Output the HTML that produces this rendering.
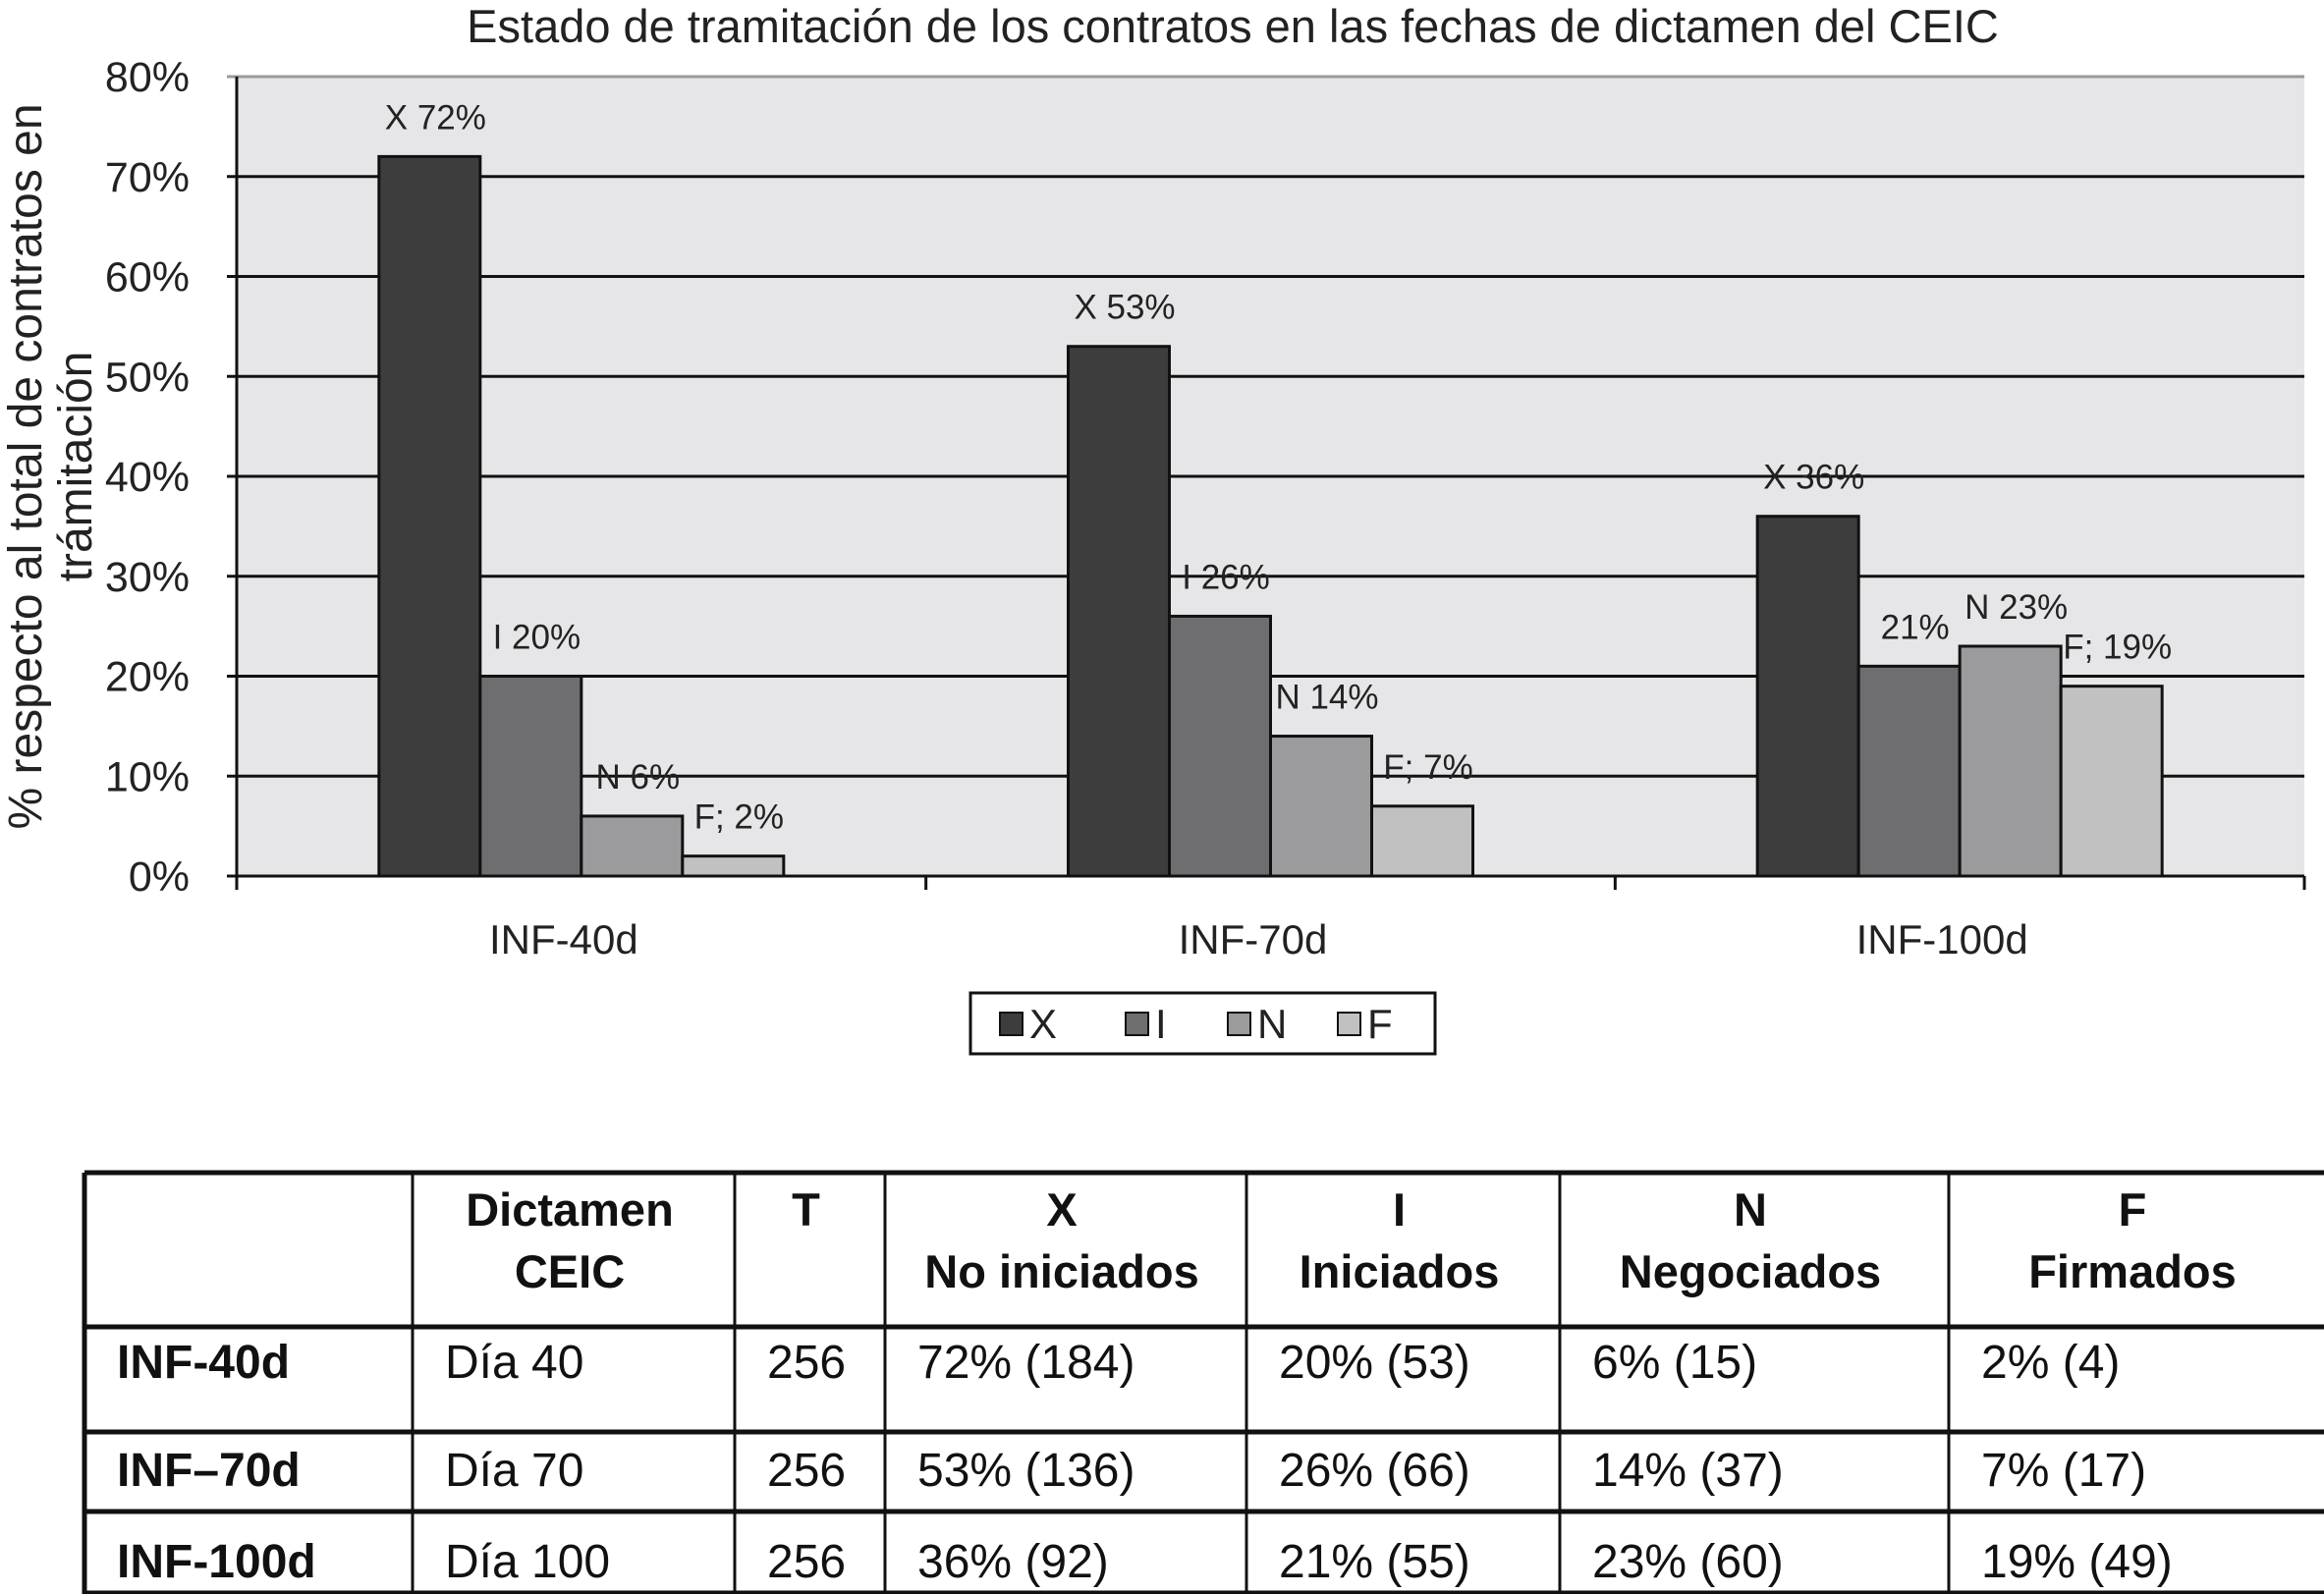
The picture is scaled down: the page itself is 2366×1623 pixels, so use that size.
<!DOCTYPE html>
<html><head><meta charset="utf-8"><style>
html,body{margin:0;padding:0;background:#fff;}
svg{display:block;font-family:"Liberation Sans",sans-serif;}
</style></head><body>
<svg id="c" width="2366" height="1623" viewBox="0 0 2366 1623"></svg>
<script>
const categories = ["INF-40d","INF-70d","INF-100d"];
const seriesNames = ["X","I","N","F"];
const seriesX = [72,53,36];
const seriesI = [20,26,21];
const seriesN = [6,14,23];
const seriesF = [2,7,19];
const labelsX = ["X 72%","X 53%","X 36%"];
const labelsI = ["I 20%","I 26%","21%"];
const labelsN = ["N 6%","N 14%","N 23%"];
const labelsF = ["F; 2%","F; 7%","F; 19%"];
const yTicks = [0,10,20,30,40,50,60,70,80];
const tableHeader = [["",""],["Dictamen","CEIC"],["T",""],["X","No iniciados"],["I","Iniciados"],["N","Negociados"],["F","Firmados"]];
const tableRows = [
 ["INF-40d","Día 40","256","72% (184)","20% (53)","6% (15)","2% (4)"],
 ["INF–70d","Día 70","256","53% (136)","26% (66)","14% (37)","7% (17)"],
 ["INF-100d","Día 100","256","36% (92)","21% (55)","23% (60)","19% (49)"]
];

const NS="http://www.w3.org/2000/svg";
const svg=document.getElementById('c');
function mk(tag,attrs,parent){const e=document.createElementNS(NS,tag);for(const k in attrs)e.setAttribute(k,attrs[k]);(parent||svg).appendChild(e);return e;}
const L=241,R=2346,T=78,B=892,YMAX=80;
const y=v=>B-(v/YMAX)*(B-T);
const gw=(R-L)/categories.length;
const barW=103;
const colors=["#3d3d3d","#6e6e71","#9b9b9d","#c1c1c1"];
const allSeries=[seriesX,seriesI,seriesN,seriesF];
const allLabels=[labelsX,labelsI,labelsN,labelsF];

let t=mk('text',{x:1255,y:43,'text-anchor':'middle','font-size':47,fill:'#222'});


t.textContent="Estado de tramitación de los contratos en las fechas de dictamen del CEIC";

let bg=mk('rect',{x:L,y:T,width:R-L,height:B-T,fill:'#e6e6e8'});



yTicks.forEach(v=>{
  let g=mk('line',{x1:L-10,x2:R,y1:y(v),y2:y(v),stroke:v===80?'#999':'#111','stroke-width':3});
  
  
  let tl=mk('text',{x:193,y:y(v)+15,'text-anchor':'end','font-size':43,fill:'#222'});
  
  
  tl.textContent=v+"%";
});
let ya=mk('line',{x1:L,x2:L,y1:T,y2:B+14,stroke:'#111','stroke-width':3});


for(let i=0;i<=categories.length;i++){
  let tk=mk('line',{x1:L+i*gw,x2:L+i*gw,y1:B,y2:B+14,stroke:'#111','stroke-width':3});
  
  
}
let yt=mk('text',{transform:'translate(42,475) rotate(-90)','text-anchor':'middle','font-size':48,fill:'#222'});


yt.textContent="% respecto al total de contratos en";
let yt2=mk('text',{transform:'translate(93,475) rotate(-90)','text-anchor':'middle','font-size':48,fill:'#222'});


yt2.textContent="trámitación";

categories.forEach((c,ci)=>{
  const gx=L+ci*gw+(gw-4*barW)/2;
  allSeries.forEach((s,si)=>{
    const v=s[ci];
    const bx=gx+si*barW;
    let r=mk('rect',{x:bx,y:y(v),width:barW,height:B-y(v),fill:colors[si],stroke:'#111','stroke-width':3});
    
    
    let lb=mk('text',{x:bx+barW/2+6,y:y(v)-28,'text-anchor':'middle','font-size':35,fill:'#222'});
    
    
    lb.textContent=allLabels[si][ci];
  });
  let cl=mk('text',{x:L+ci*gw+gw/2-18,y:971,'text-anchor':'middle','font-size':42,fill:'#222'});
  
  
  cl.textContent=c;
});

let lg=mk('rect',{x:988,y:1011,width:473,height:62,fill:'#fff',stroke:'#111','stroke-width':3});


const legX=[1018,1146,1250,1362];
seriesNames.forEach((n,i)=>{
  let sq=mk('rect',{x:legX[i],y:1031,width:23,height:23,fill:colors[i],stroke:'#111','stroke-width':2});
  
  
  let lt=mk('text',{x:legX[i]+30,y:1057,'font-size':42,fill:'#222'});
  
  
  lt.textContent=n;
});

// table
const colX=[86,420,748,901,1269,1588,1984,2366];
const rowY=[1194,1351,1458,1539,1622];
rowY.forEach(ry=>{
  let hl=mk('line',{x1:86,x2:2366,y1:ry,y2:ry,stroke:'#111','stroke-width':5});
  
  
});
colX.slice(0,7).forEach((cx,i)=>{
  let vl=mk('line',{x1:cx,x2:cx,y1:1194,y2:1623,stroke:'#111','stroke-width':i===0?5:3});
  
  
});
tableHeader.forEach((h,i)=>{
  const cx=(colX[i]+colX[i+1])/2;
  h.forEach((line,li)=>{
    if(!line)return;
    let ht=mk('text',{x:cx-4,y:1248+li*63,'text-anchor':'middle','font-size':47,'font-weight':'bold',fill:'#111'});
    
    
    ht.textContent=line;
  });
});
const rowTextY=[1403,1513,1606];
tableRows.forEach((row,ri)=>{
  row.forEach((cell,ci)=>{
    let tt=mk('text',{x:colX[ci]+33,y:rowTextY[ri],'font-size':48,'font-weight':ci===0?'bold':'normal',fill:'#111'});
    
    
    tt.textContent=cell;
  });
});
</script>
</body></html>
